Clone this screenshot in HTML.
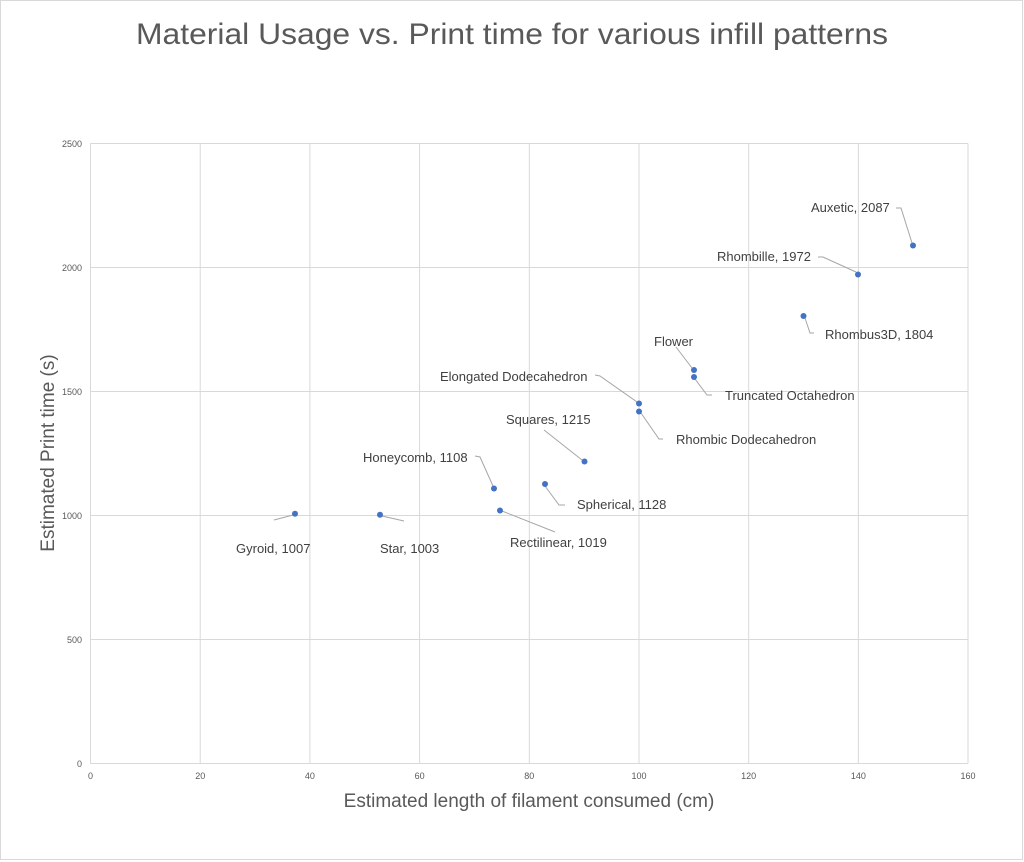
<!DOCTYPE html>
<html><head><meta charset="utf-8"><style>
html,body{margin:0;padding:0;background:#fff;}
svg{display:block;font-family:"Liberation Sans",sans-serif;}
</style></head><body>
<svg width="1024" height="862" viewBox="0 0 1024 862">
<rect x="0.5" y="0.5" width="1022" height="859" fill="#fff" stroke="#d9d9d9"/>
<text x="136" y="44" font-size="30" fill="#595959" textLength="752" lengthAdjust="spacingAndGlyphs">Material Usage vs. Print time for various infill patterns</text>
<g stroke="#d9d9d9" stroke-width="1">
<line x1="90.5" y1="143.5" x2="968" y2="143.5"/>
<line x1="90.5" y1="267.5" x2="968" y2="267.5"/>
<line x1="90.5" y1="391.5" x2="968" y2="391.5"/>
<line x1="90.5" y1="515.5" x2="968" y2="515.5"/>
<line x1="90.5" y1="639.5" x2="968" y2="639.5"/>
<line x1="90.5" y1="763.5" x2="968" y2="763.5"/>
<line x1="90.5" y1="143.5" x2="90.5" y2="763.5"/>
<line x1="200.2" y1="143.5" x2="200.2" y2="763.5"/>
<line x1="309.9" y1="143.5" x2="309.9" y2="763.5"/>
<line x1="419.6" y1="143.5" x2="419.6" y2="763.5"/>
<line x1="529.3" y1="143.5" x2="529.3" y2="763.5"/>
<line x1="639" y1="143.5" x2="639" y2="763.5"/>
<line x1="748.7" y1="143.5" x2="748.7" y2="763.5"/>
<line x1="858.4" y1="143.5" x2="858.4" y2="763.5"/>
<line x1="968" y1="143.5" x2="968" y2="763.5"/>
</g>
<g font-size="9" fill="#595959" text-anchor="end">
<text x="82" y="147">2500</text><text x="82" y="271">2000</text><text x="82" y="395">1500</text>
<text x="82" y="519">1000</text><text x="82" y="643">500</text><text x="82" y="767">0</text>
</g>
<g font-size="9" fill="#595959" text-anchor="middle">
<text x="90.5" y="779">0</text><text x="200.2" y="779">20</text><text x="309.9" y="779">40</text>
<text x="419.6" y="779">60</text><text x="529.3" y="779">80</text><text x="639" y="779">100</text>
<text x="748.7" y="779">120</text><text x="858.4" y="779">140</text><text x="968" y="779">160</text>
</g>
<text x="529" y="807" text-anchor="middle" font-size="19" fill="#595959">Estimated length of filament consumed (cm)</text>
<text transform="translate(54,453) rotate(-90)" text-anchor="middle" font-size="19" fill="#595959">Estimated Print time (s)</text>
<g stroke="#a6a6a6" fill="none" stroke-width="1">
<polyline points="274,520 293,515"/>
<polyline points="404,521 382,516"/>
<polyline points="475,456 480,457 493,486"/>
<polyline points="502,511 555,532"/>
<polyline points="545,486 559,505 565,505"/>
<polyline points="544,430 582,460"/>
<polyline points="595,375 600,376 637,402"/>
<polyline points="641,413 659,439 663,439"/>
<polyline points="676,347 692,368"/>
<polyline points="695,379 707,395 712,395"/>
<polyline points="805,318 810,333 814,333"/>
<polyline points="818,257 823,257 856,272"/>
<polyline points="896,208 901,208 912,243"/>
</g>
<g fill="#4472c4">
<circle cx="295" cy="513.8" r="3"/><circle cx="380" cy="514.7" r="3"/>
<circle cx="494" cy="488.5" r="3"/><circle cx="500" cy="510.5" r="3"/>
<circle cx="545" cy="484" r="3"/><circle cx="584.5" cy="461.5" r="3"/>
<circle cx="639" cy="403.5" r="3"/><circle cx="639" cy="411.5" r="3"/>
<circle cx="694" cy="370" r="3"/><circle cx="694" cy="377" r="3"/>
<circle cx="803.5" cy="316" r="3"/><circle cx="858" cy="274.5" r="3"/>
<circle cx="913" cy="245.5" r="3"/>
</g>
<g font-size="13" fill="#404040">
<text x="236" y="553">Gyroid, 1007</text>
<text x="380" y="553">Star, 1003</text>
<text x="363" y="462">Honeycomb, 1108</text>
<text x="510" y="547">Rectilinear, 1019</text>
<text x="577" y="509">Spherical, 1128</text>
<text x="506" y="424">Squares, 1215</text>
<text x="440" y="381">Elongated Dodecahedron</text>
<text x="676" y="444">Rhombic Dodecahedron</text>
<text x="654" y="346">Flower</text>
<text x="725" y="400">Truncated Octahedron</text>
<text x="825" y="339">Rhombus3D, 1804</text>
<text x="717" y="261">Rhombille, 1972</text>
<text x="811" y="212">Auxetic, 2087</text>
</g>
</svg>
</body></html>
